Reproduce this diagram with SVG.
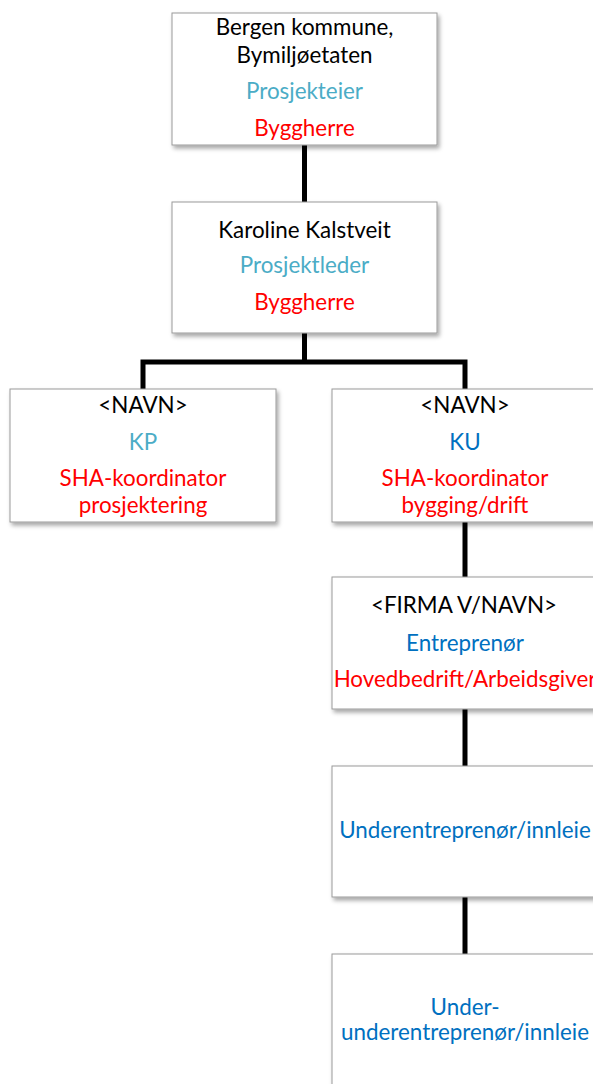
<svg xmlns="http://www.w3.org/2000/svg" width="593" height="1084" viewBox="0 0 593 1084">
<style>
text{font-family:Lato,"Liberation Sans",sans-serif;font-size:22.4px;text-anchor:middle}
.k{fill:#000}.t{fill:#4BACC6}.b{fill:#0070C0}.r{fill:#FF0000}
.box{fill:#fff;stroke:#9a9a9a;stroke-width:1;filter:url(#sh)}
.c{fill:none;stroke:#000;stroke-width:5;stroke-linejoin:miter}
</style>
<defs>
<filter id="sh" x="-10%" y="-10%" width="130%" height="130%">
<feDropShadow dx="2" dy="3" stdDeviation="2" flood-color="#000" flood-opacity="0.35"/>
</filter>
</defs>
<rect width="593" height="1084" fill="#fff"/>
<g id="connectors">
<path class="c" d="M304.5 145V202"/>
<path class="c" d="M304.5 333V362M143 389V362H465V389"/>
<path class="c" d="M465 522V577"/>
<path class="c" d="M465 709V766"/>
<path class="c" d="M465 897V954"/>
</g>
<g id="n1">
<rect class="box" x="172" y="13" width="265" height="132"/>
<text class="k" x="304.5" y="35">Bergen kommune,</text>
<text class="k" x="304.5" y="63">Bymiljøetaten</text>
<text class="t" x="304.5" y="99">Prosjekteier</text>
<text class="r" x="304.5" y="136">Byggherre</text>
</g>
<g id="n2">
<rect class="box" x="172" y="202" width="265" height="131"/>
<text class="k" x="304.5" y="238">Karoline Kalstveit</text>
<text class="t" x="304.5" y="273">Prosjektleder</text>
<text class="r" x="304.5" y="310">Byggherre</text>
</g>
<g id="n3">
<rect class="box" x="10" y="389" width="266" height="133"/>
<text class="k" x="143" y="413">&lt;NAVN&gt;</text>
<text class="t" x="143" y="450">KP</text>
<text class="r" x="143" y="486">SHA-koordinator</text>
<text class="r" x="143" y="513">prosjektering</text>
</g>
<g id="n4">
<rect class="box" x="332" y="389" width="266" height="133"/>
<text class="k" x="465" y="413">&lt;NAVN&gt;</text>
<text class="b" x="465" y="450">KU</text>
<text class="r" x="465" y="486">SHA-koordinator</text>
<text class="r" x="465" y="513">bygging/drift</text>
</g>
<g id="n5">
<rect class="box" x="332" y="577" width="266" height="132"/>
<text class="k" x="464" y="613">&lt;FIRMA V/NAVN&gt;</text>
<text class="b" x="465" y="651">Entreprenør</text>
<text class="r" x="465" y="687">Hovedbedrift/Arbeidsgiver</text>
</g>
<g id="n6">
<rect class="box" x="332" y="766" width="266" height="131"/>
<text class="b" x="465" y="838">Underentreprenør/innleie</text>
</g>
<g id="n7">
<rect class="box" x="332" y="954" width="266" height="140"/>
<text class="b" x="465" y="1015">Under-</text>
<text class="b" x="465" y="1040">underentreprenør/innleie</text>
</g>
</svg>
